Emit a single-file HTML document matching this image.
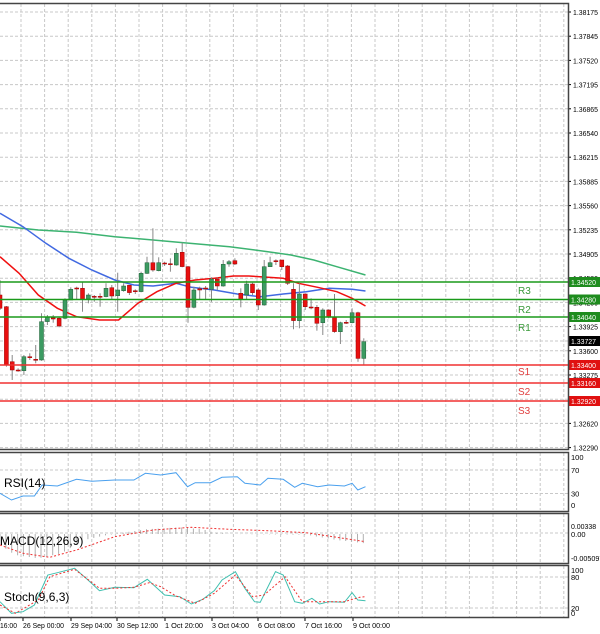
<!DOCTYPE html>
<html><head><meta charset="utf-8"><style>
html,body{margin:0;padding:0;background:#fff;}
svg{display:block;font-family:"Liberation Sans",sans-serif;}
</style></head><body>
<svg id="s" width="600" height="634" xmlns="http://www.w3.org/2000/svg"></svg>
<script>
const S=document.getElementById('s');let h='';
const XS=2.613;
function X(zx){return zx/XS;}
function Y(zy){return 200+zy/3;}
h+='<rect x="0" y="0" width="600" height="634" fill="#fff"/>';
let g='';
for(let x=21;x<568;x+=23.6)g+=`M${x.toFixed(1)} 4V449M${x.toFixed(1)} 453V510M${x.toFixed(1)} 514V562M${x.toFixed(1)} 566V617`;
const ticks=["1.38175","1.37845","1.37520","1.37195","1.36865","1.36540","1.36215","1.35885","1.35560","1.35235","1.34905","1.34580","1.34250","1.33925","1.33600","1.33275","1.32950","1.32620","1.32290"];
let lab='';
ticks.forEach((t,i)=>{const y=12+i*24.2;g+=`M0 ${y.toFixed(1)}H568`;lab+=`<line x1="568" y1="${y}" x2="571" y2="${y}" stroke="#000"/><text x="573" y="${(y+3).toFixed(1)}" font-size="7.5" textLength="25" lengthAdjust="spacingAndGlyphs" fill="#000">${t}</text>`;});
[[470,'70'],[493.5,'30']].forEach(a=>g+=`M0 ${a[0]}H568`);
g+='M0 533H568M0 577H568M0 608H568M0 341H568';
h+=`<path d="${g}" stroke="#c8c8c8" stroke-width="1" stroke-dasharray="3,2" fill="none"/>`;
h+=lab;
[[457,'100'],[470,'70'],[493.5,'30'],[505,'0'],[526,'0.00338'],[534,'0.00'],[558,'-0.005097'],[570,'100'],[577,'80'],[608,'20'],[613,'0']].forEach(a=>{const tl=a[1].length>5?` textLength="${a[1].length*3.6}" lengthAdjust="spacingAndGlyphs"`:'';h+=`<text x="571" y="${a[0]+3}" font-size="7.5"${tl} fill="#000">${a[1]}</text>`;});
function pl(pts,col,w,dash,fy){return `<polyline points="${pts.map(p=>X(p[0]).toFixed(1)+','+fy(p[1]).toFixed(1)).join(' ')}" fill="none" stroke="${col}" stroke-width="${w}" ${dash?'stroke-dasharray="'+dash+'"':''}/>`;}
h+=pl([[0,78],[100,90],[200,97],[300,110],[400,120],[480,128],[600,140],[700,155],[760,165],[820,180],[880,200],[955,225]],'#3cb371',1.5,0,Y);
h+=pl([[0,40],[60,80],[120,130],[180,175],[240,210],[300,240],[350,255],[400,258],[460,250],[500,262],[560,270],[620,282],[680,290],[740,282],[800,275],[860,265],[920,268],[955,273]],'#4169e1',1.5,0,Y);
h+=pl([[0,170],[50,220],[100,285],[150,325],[200,350],[260,360],[310,360],[360,310],[410,275],[460,250],[510,240],[560,235],[610,228],[650,228],[700,232],[740,235],[780,250],[830,262],[880,275],[920,295],[955,318]],'#f01010',1.5,0,Y);
const C=[[285,325,240,330],[320,495,318,500],[485,510,465,540],[510,512,505,515],[512,470,465,525],[470,472,460,480],[478,479,435,490],[480,365,340,482],[365,352,345,375],[353,357,345,368],[355,378,352,382],[355,300,295,358],[300,268,262,300],[264,267,260,300],[265,298,245,335],[297,285,280,310],[289,291,285,305],[289,291,280,320],[290,265,250,292],[263,288,255,300],[287,270,218,335],[272,258,250,275],[256,278,255,285],[272,274,268,282],[275,220,215,277],[220,188,170,222],[188,210,85,215],[212,188,172,214],[189,191,185,198],[191,193,175,215],[195,160,145,197],[157,200,128,202],[200,322,198,368],[322,270,260,325],[266,270,260,298],[264,266,258,300],[268,237,232,305],[237,258,232,270],[258,193,180,260],[192,185,180,200],[182,192,175,195],[280,298,265,322],[285,252,242,300],[252,278,248,285],[270,315,265,330],[315,200,180,317],[200,188,170,200],[182,184,178,195],[180,200,180,210],[198,250,195,255],[268,362,250,388],[362,282,250,385],[282,320,280,330],[321,323,295,328],[322,370,315,392],[368,330,325,405],[330,352,328,355],[352,395,282,398],[395,368,365,432],[367,369,360,372],[368,338,325,370],[338,475,335,485],[475,425,415,495]];
C.forEach((c,i)=>{const x=i*5.86+(i==0?0:0.5);const [o,cl,hi,lo]=c.map(Y);const bull=cl<o;
h+=`<line x1="${x.toFixed(1)}" y1="${hi.toFixed(1)}" x2="${x.toFixed(1)}" y2="${lo.toFixed(1)}" stroke="#888" stroke-width="1"/>`;
const t=Math.min(o,cl),bh=Math.max(1,Math.abs(o-cl));
h+=`<rect x="${(x-2).toFixed(1)}" y="${t.toFixed(1)}" width="4" height="${bh.toFixed(1)}" fill="${bull?'#3c9b62':'#e81010'}" stroke="${bull?'#1e5e36':'#900'}" stroke-width="0.5"/>`;});
[[282,'#1a9a1a','1.34520','R3',290],[299.5,'#1a9a1a','1.34280','R2',309],[317,'#1a9a1a','1.34040','R1',327]].forEach(l=>{h+=`<line x1="0" y1="${l[0]}" x2="568" y2="${l[0]}" stroke="${l[1]}" stroke-width="1.6"/><rect x="568" y="${l[0]-5}" width="32" height="10" fill="#1e8c1e"/><text x="571" y="${l[0]+3}" font-size="7.5" textLength="25" lengthAdjust="spacingAndGlyphs" fill="#fff">${l[2]}</text><text x="518" y="${l[4]+4}" font-size="10" fill="#3a9a3a">${l[3]}</text>`;});
[[365,'1.33400','S1',371],[383,'1.33160','S2',391],[401,'1.32920','S3',410]].forEach(l=>{h+=`<line x1="0" y1="${l[0]}" x2="568" y2="${l[0]}" stroke="#f03030" stroke-width="1.6"/><rect x="568" y="${l[0]-5}" width="32" height="10" fill="#e01010"/><text x="571" y="${l[0]+3}" font-size="7.5" textLength="25" lengthAdjust="spacingAndGlyphs" fill="#fff">${l[1]}</text><text x="518" y="${l[3]+4}" font-size="10" fill="#e04040">${l[2]}</text>`;});
h+=`<rect x="568" y="336" width="32" height="10" fill="#000"/><text x="571" y="344" font-size="7.5" textLength="25" lengthAdjust="spacingAndGlyphs" fill="#fff">1.33727</text>`;
const R=z=>440+z/3;
h+=pl([[0,160],[30,180],[60,168],[90,168],[110,135],[150,138],[200,118],[240,124],[300,120],[350,120],[380,100],[420,105],[460,98],[490,140],[510,128],[550,128],[580,112],[620,110],[640,130],[680,135],[700,115],[740,118],[770,142],[790,130],[830,140],[860,135],[900,138],[920,130],[935,150],[955,140]],'#4aa0ee',1,0,R);
function hv(zx){const pts=[[0,315],[40,345],[100,355],[160,340],[220,300],[280,285],[300,282],[380,268],[470,262],[530,268],[560,278],[600,282],[800,284],[880,300],[955,310]];for(let i=1;i<pts.length;i++)if(zx<=pts[i][0]){const a=pts[i-1],b=pts[i];return a[1]+(b[1]-a[1])*(zx-a[0])/(b[0]-a[0]);}return 310;}
for(let i=0;i<63;i++){const zx=i*5.86*XS;const v=R(hv(zx));h+=`<line x1="${(i*5.86).toFixed(1)}" y1="534" x2="${(i*5.86).toFixed(1)}" y2="${v.toFixed(1)}" stroke="#b0b0b0" stroke-width="1"/>`;}
h+=pl([[0,315],[60,340],[130,352],[200,330],[300,290],[400,270],[500,262],[600,268],[700,272],[800,278],[880,292],[955,305]],'#f03030',1,'2,2',R);
h+=pl([[0,485],[30,520],[60,515],[90,495],[125,405],[150,398],[195,385],[230,420],[260,452],[300,442],[350,443],[385,418],[430,465],[470,470],[500,492],[530,478],[560,452],[580,420],[615,395],[640,445],[665,485],[680,487],[720,395],[740,405],[770,485],[790,490],[815,475],[835,492],[860,485],[900,487],[920,458],[935,480],[955,482]],'#40c0b0',1,0,R);
h+=pl([[0,495],[40,520],[100,480],[130,410],[195,388],[260,445],[300,445],[350,442],[390,428],[420,440],[460,468],[510,490],[560,460],[615,405],[660,470],[690,465],[745,410],[790,485],[860,485],[900,485],[940,472],[955,470]],'#f03030',1,'2,2',R);
h+='<path d="M0 3.5H568.5V449.5H0M0 452.5H568.5V511.5H0M0 513.5H568.5V563.5H0M0 565.5H568.5V617.5H0" fill="none" stroke="#444" stroke-width="1.5"/>';
h+='<text x="4" y="487" font-size="12">RSI(14)</text><text x="0" y="545" font-size="12">MACD(12,26,9)</text><text x="4" y="601" font-size="12">Stoch(9,6,3)</text>';
[[0,'16:00',17],[23,'26 Sep 00:00',41],[71,'29 Sep 04:00',41],[117,'30 Sep 12:00',41],[165,'1 Oct 20:00',38],[212,'3 Oct 04:00',37],[258,'6 Oct 08:00',37],[305,'7 Oct 16:00',37],[353,'9 Oct 00:00',37]].forEach(d=>h+=`<text x="${d[0]}" y="628" font-size="7.5" textLength="${d[2]}" lengthAdjust="spacingAndGlyphs">${d[1]}</text><line x1="${d[0]}" y1="618" x2="${d[0]}" y2="621" stroke="#000"/>`);
S.innerHTML=h;
</script>
</body></html>
